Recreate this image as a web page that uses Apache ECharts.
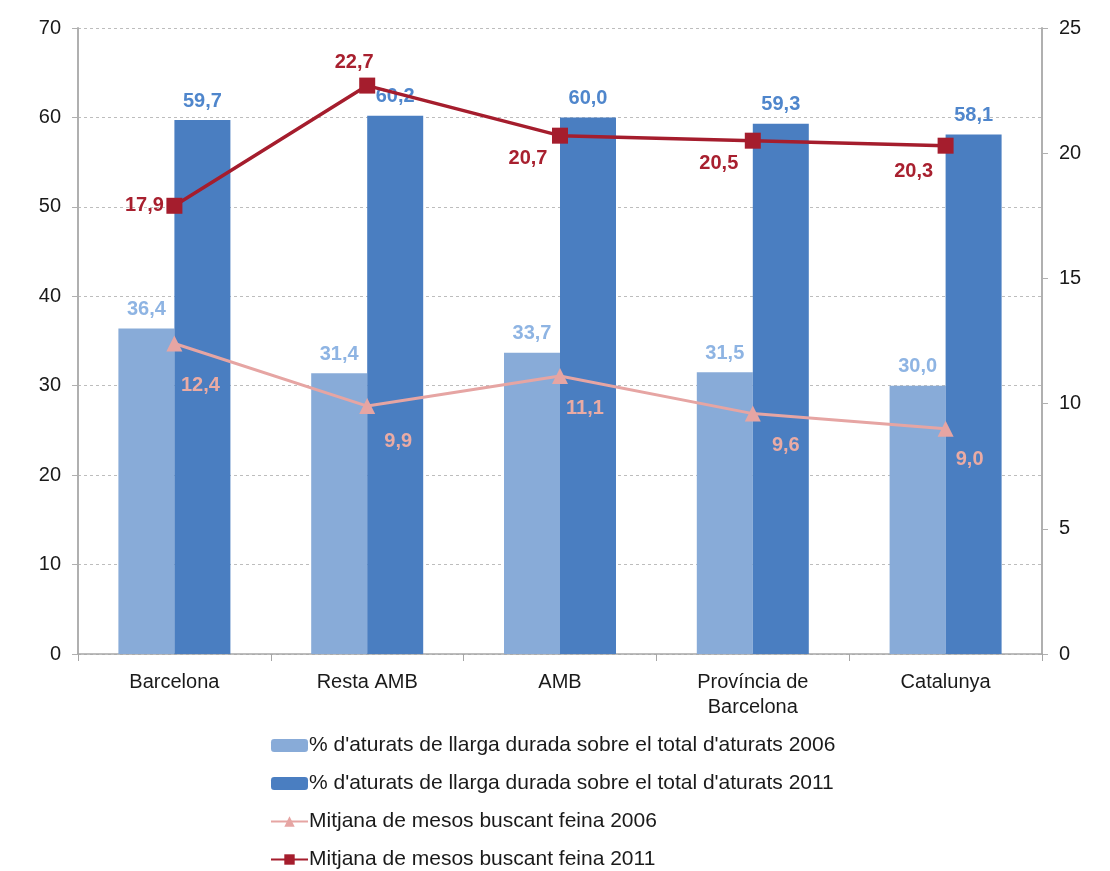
<!DOCTYPE html>
<html>
<head>
<meta charset="utf-8">
<script src="https://cdn.jsdelivr.net/npm/echarts@6/dist/echarts.min.js"></script>
<style>
  html, body { margin: 0; padding: 0; background: #fff; }
  #chart { width: 1110px; height: 871px; }
</style>
</head>
<body>
<div id="chart"></div>
<script>
// categories
const categories = ['Barcelona', 'Resta AMB', 'AMB', 'Província de\nBarcelona', 'Catalunya'];
// % long-term unemployed (left axis)
const pct2006 = [36.4, 31.4, 33.7, 31.5, 30.0];
const pct2011 = [59.7, 60.2, 60.0, 59.3, 58.1];
// average months looking for work (right axis)
const months2006 = [12.4, 9.9, 11.1, 9.6, 9.0];
const months2011 = [17.9, 22.7, 20.7, 20.5, 20.3];

const seriesNames = [
  "% d'aturats de llarga durada sobre el total d'aturats 2006",
  "% d'aturats de llarga durada sobre el total d'aturats 2011",
  'Mitjana de mesos buscant feina 2006',
  'Mitjana de mesos buscant feina 2011'
];

// label offsets (px) from each line point, as placed in the original
const off2006 = [[26, 42], [31, 35], [25, 32], [33, 32], [24, 31]];
const off2011 = [[-30, 0], [-13, -23], [-32, 23], [-34, 23], [-32, 26]];

const FONT = '"Liberation Sans", Arial, sans-serif';
const fmt = p => p.value.toFixed(1).replace('.', ',');

const chart = echarts.init(document.getElementById('chart'));

const withOffsets = (vals, offs) => vals.map((v, i) => ({
  value: v,
  label: { offset: offs[i] }
}));

const option = {
  animation: false,
  textStyle: { fontFamily: FONT },
  grid: { left: 78, right: 68, top: 28, bottom: 217 },
  legend: {
    orient: 'vertical',
    left: 270,
    top: 735,
    padding: 0,
    itemGap: 17,
    itemWidth: 37,
    itemHeight: 13,
    data: seriesNames,
    textStyle: { fontSize: 21, color: '#1a1a1a', fontFamily: FONT, padding: [0, 0, 0, -4] }
  },
  xAxis: {
    type: 'category',
    data: categories,
    axisLine: { lineStyle: { color: '#a6a6a6', width: 1.5 } },
    axisTick: { show: true, length: 7, lineStyle: { color: '#a6a6a6' } },
    axisLabel: { fontSize: 20, color: '#1a1a1a', margin: 16, lineHeight: 25 }
  },
  yAxis: [
    {
      type: 'value', min: 0, max: 70, interval: 10,
      axisLine: { show: true, lineStyle: { color: '#b0b0b0', width: 2 } },
      axisTick: { show: true, length: 6, lineStyle: { color: '#b0b0b0' } },
      axisLabel: { fontSize: 20, color: '#1a1a1a', margin: 17 },
      splitLine: { lineStyle: { color: '#bdbdbd', type: [3, 3] } }
    },
    {
      type: 'value', min: 0, max: 25, interval: 5,
      axisLine: { show: true, lineStyle: { color: '#b0b0b0', width: 2 } },
      axisTick: { show: true, length: 6, lineStyle: { color: '#b0b0b0' } },
      axisLabel: { fontSize: 20, color: '#1a1a1a', margin: 17 },
      splitLine: { show: false }
    }
  ],
  series: [
    {
      name: seriesNames[0],
      type: 'bar',
      data: pct2006,
      barWidth: 56,
      barGap: '0%',
      itemStyle: { color: '#88abd8' },
      label: {
        show: true, position: 'top', distance: 9, formatter: fmt,
        fontSize: 20, fontWeight: 'bold', color: '#8eb4e3'
      },
      z: 2
    },
    {
      name: seriesNames[1],
      type: 'bar',
      data: pct2011,
      barWidth: 56,
      itemStyle: { color: '#4a7ec1' },
      label: {
        show: true, position: 'top', distance: 9, formatter: fmt,
        fontSize: 20, fontWeight: 'bold', color: '#4f86cc'
      },
      z: 2
    },
    {
      name: seriesNames[2],
      type: 'line',
      yAxisIndex: 1,
      data: withOffsets(months2006, off2006),
      symbol: 'triangle',
      symbolSize: 16,
      lineStyle: { color: '#e6a5a3', width: 3 },
      itemStyle: { color: '#e6a5a3' },
      label: {
        show: true, position: 'inside', formatter: fmt,
        fontSize: 20, fontWeight: 'bold', color: '#eaaba4'
      },
      z: 4
    },
    {
      name: seriesNames[3],
      type: 'line',
      yAxisIndex: 1,
      data: withOffsets(months2011, off2011),
      symbol: 'rect',
      symbolSize: 16,
      lineStyle: { color: '#a51d2d', width: 3.5 },
      itemStyle: { color: '#a51d2d' },
      label: {
        show: true, position: 'inside', formatter: fmt,
        fontSize: 20, fontWeight: 'bold', color: '#a8202f'
      },
      z: 5
    }
  ]
};

chart.setOption(option);
</script>
</body>
</html>
